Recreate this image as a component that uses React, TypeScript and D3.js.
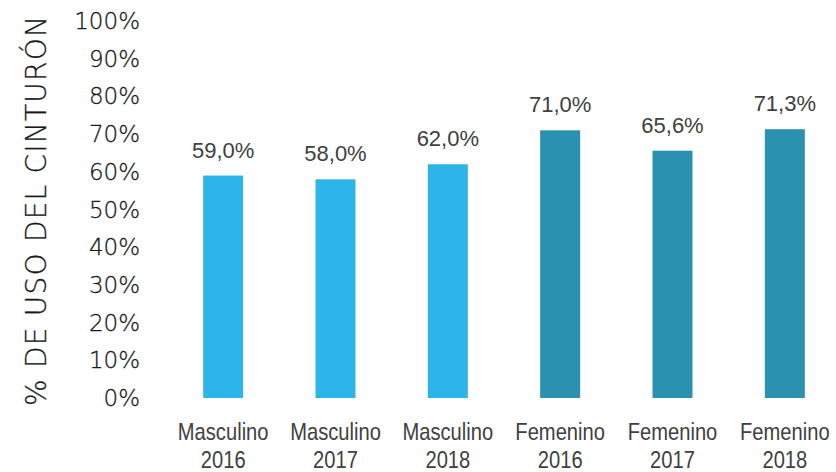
import React from "react";
import * as d3 from "d3";

const categories = ["Masculino 2016", "Masculino 2017", "Masculino 2018", "Femenino 2016", "Femenino 2017", "Femenino 2018"];
const values = [59.0, 58.0, 62.0, 71.0, 65.6, 71.3];
const groups = ["M", "M", "M", "F", "F", "F"];
const ticks = [0, 10, 20, 30, 40, 50, 60, 70, 80, 90, 100];
const axisTitle = "% DE USO DEL CINTURÓN";

const colors: Record<string, string> = { M: "#2db4e9", F: "#2a91b1" };
const textColor = "#404040";

const width = 836;
const height = 472;

export default function App() {
  const x = d3
    .scaleBand<string>()
    .domain(categories)
    .range([167, 841])
    .paddingInner(0.644)
    .paddingOuter(0.322);
  const y = d3.scaleLinear().domain([0, 100]).range([398, 21]);
  const fmt = (v: number) => v.toFixed(1).replace(".", ",") + "%";

  return (
    <svg
      width={width}
      height={height}
      style={{ position: "absolute", left: 0, top: 0, background: "#fff" }}
    >
      <text
        transform={`translate(46, 211) rotate(-90)`}
        textAnchor="middle"
        fontFamily="DejaVu Sans"
        fontWeight={200}
        fontSize={28}
        fill="#1a1a1a"
        stroke="#1a1a1a"
        strokeWidth={0.3}
        textLength={390}
        lengthAdjust="spacing"
      >
        {axisTitle}
      </text>

      {ticks.map((t) => (
        <text
          key={t}
          x={140}
          y={y(t) + 8}
          textAnchor="end"
          fontFamily="DejaVu Sans"
          fontWeight={200}
          fontSize={23}
          fill="#1a1a1a"
          stroke="#1a1a1a"
          strokeWidth={0.3}
        >
          {t + "%"}
        </text>
      ))}

      {categories.map((c, i) => {
        const bx = x(c)!;
        const cx = bx + x.bandwidth() / 2;
        const [l1, l2] = c.split(" ");
        return (
          <g key={c}>
            <rect
              x={bx}
              y={y(values[i])}
              width={x.bandwidth()}
              height={y(0) - y(values[i])}
              fill={colors[groups[i]]}
            />
            <text
              x={cx}
              y={y(values[i]) - 18}
              textAnchor="middle"
              fontFamily="Liberation Sans, Arial, sans-serif"
              fontSize={22}
              fill={textColor}
            >
              {fmt(values[i])}
            </text>
            <g transform={`translate(${cx}, 0) scale(0.84, 1)`}>
              <text
                x={0}
                y={440}
                textAnchor="middle"
                fontFamily="Liberation Sans, Arial, sans-serif"
                fontSize={24}
                fill={textColor}
              >
                {l1}
              </text>
              <text
                x={0}
                y={468}
                textAnchor="middle"
                fontFamily="Liberation Sans, Arial, sans-serif"
                fontSize={24}
                fill={textColor}
              >
                {l2}
              </text>
            </g>
          </g>
        );
      })}
    </svg>
  );
}
